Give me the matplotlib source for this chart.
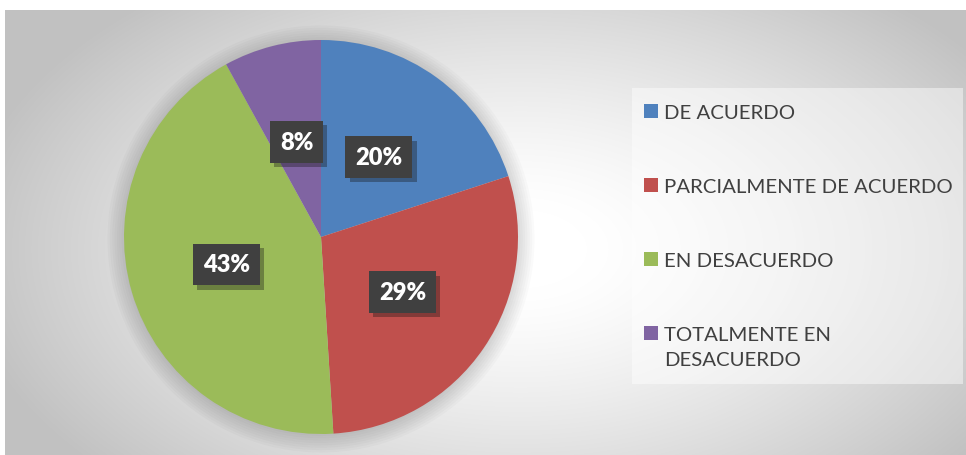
import numpy as np
import matplotlib.pyplot as plt
import matplotlib.patheffects as pe
from matplotlib.patches import Rectangle

plt.rcParams['font.family'] = ['Lato', 'DejaVu Sans']

categories = ['DE ACUERDO', 'PARCIALMENTE DE ACUERDO', 'EN DESACUERDO', 'TOTALMENTE EN\nDESACUERDO']
values = [20, 29, 43, 8]
colors = ['#4F81BD', '#C0504D', '#9BBB59', '#8064A2']

W, H = 966, 456
fig = plt.figure(figsize=(W / 100, H / 100), dpi=100)
fig.patch.set_facecolor('white')

# chart area with radial gray/white gradient
bg = fig.add_axes([5 / W, 0, 1 - 5 / W, (H - 11) / H])
bg.set_axis_off()
yy, xx = np.mgrid[11:H, 5:W]
d = np.sqrt(((xx - 520) / 560.0) ** 2 + ((yy - 250) / 330.0) ** 2)
shade = 1 - 0.24 * np.clip((d - 0.12) / 0.88, 0, 1) ** 1.3
bg.imshow(np.dstack([shade] * 3), aspect='auto', extent=[0, 1, 0, 1], origin='upper')
bg.set_xlim(0, 1)
bg.set_ylim(0, 1)

# pie
cx, cy, r = 321, 238, 197
ax = fig.add_axes([(cx - r) / W, (H - cy - r) / H, 2 * r / W, 2 * r / H])

# soft shadow behind the pie
for k in range(8):
    ax.add_patch(plt.Circle((0.0, -0.01), 1.0 + 0.012 * k, color='black',
                            alpha=0.018, lw=0, zorder=0, clip_on=False))

wedges, texts, autotexts = ax.pie(values, colors=colors, startangle=90, counterclock=False,
                                  autopct='%1.0f%%', pctdistance=0.5, radius=1,
                                  wedgeprops=dict(linewidth=0))
ax.set_xlim(-1, 1)
ax.set_ylim(-1, 1)
ax.set_axis_off()
for t in autotexts:
    t.set_color('white')
    t.set_fontsize(17)
    t.set_fontweight('heavy')
    t.set_bbox(dict(boxstyle='square,pad=0.42', fc='#404040', ec='none'))
    t.get_bbox_patch().set_path_effects([pe.withSimplePatchShadow(offset=(3, -3), alpha=0.35), pe.Normal()])

# legend box
lx0, ly0, lx1, ly1 = 632, 89, 963, 385
fig.patches.append(Rectangle((lx0 / W, 1 - ly1 / H), (lx1 - lx0) / W, (ly1 - ly0) / H,
                             transform=fig.transFigure, fc='white', alpha=0.45, ec='none'))
ys = [112, 186, 260, 334]
for lab, col, y in zip(categories, colors, ys):
    fig.patches.append(Rectangle((644 / W, 1 - (y + 7) / H), 14 / W, 14 / H,
                                 transform=fig.transFigure, fc=col, ec='none'))
    fig.text(664 / W, 1 - (y - 7) / H, lab, fontsize=14.7, color='#404040',
             ha='left', va='top', linespacing=1.6)

fig.savefig('out.png', dpi=100)
